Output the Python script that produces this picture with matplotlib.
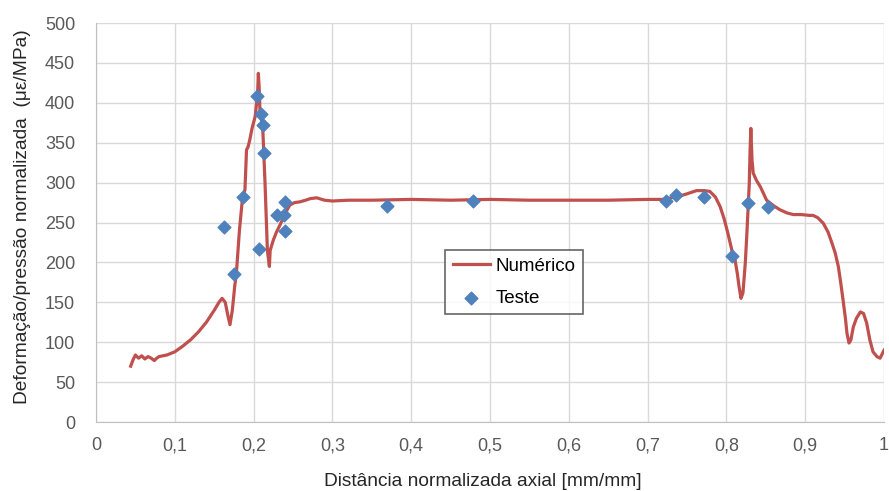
import matplotlib.pyplot as plt
from matplotlib.ticker import FuncFormatter, MultipleLocator

# Numérico (curva do modelo)
x_num = [0.044, 0.047, 0.050, 0.054, 0.058, 0.062, 0.066, 0.070, 0.074, 0.077, 0.080,
         0.090, 0.100, 0.110, 0.120, 0.130, 0.140, 0.150, 0.156, 0.160, 0.164, 0.167,
         0.170, 0.173, 0.176, 0.178, 0.182, 0.186, 0.189, 0.191, 0.193, 0.195, 0.198,
         0.202, 0.205, 0.206, 0.207, 0.208, 0.2115, 0.2124, 0.2145, 0.2175, 0.220,
         0.221, 0.225, 0.229, 0.234, 0.238, 0.242, 0.246, 0.252, 0.259, 0.266, 0.272,
         0.280, 0.290, 0.300, 0.320, 0.350, 0.400, 0.450, 0.500, 0.550, 0.600, 0.650,
         0.700, 0.720, 0.740, 0.750, 0.762, 0.772, 0.779, 0.786, 0.792, 0.797, 0.802,
         0.807, 0.811, 0.814, 0.816, 0.8185, 0.821, 0.824, 0.826, 0.829, 0.830, 0.831,
         0.8325, 0.834, 0.838, 0.843, 0.851, 0.860, 0.868, 0.877, 0.885, 0.895, 0.905,
         0.910, 0.916, 0.923, 0.929, 0.934, 0.938, 0.942, 0.945, 0.948, 0.951, 0.953,
         0.9556, 0.958, 0.961, 0.965, 0.970, 0.974, 0.978, 0.982, 0.986, 0.991, 0.995,
         0.998, 1.000]
y_num = [70, 78, 84, 80, 83, 79, 82, 80, 77, 80, 82,
         84, 88, 95, 103, 113, 125, 140, 150, 155, 150, 135,
         122, 140, 170, 185, 240, 282, 291, 341, 345, 353, 368,
         383, 410, 437, 420, 391, 370, 349, 299, 215, 195,
         215, 228, 238, 248, 257, 265, 272, 275, 276, 278, 280,
         281, 278, 277, 278, 278, 279, 278, 279, 278, 278, 278,
         279, 279, 283, 286, 290, 290, 289, 282, 270, 255, 236,
         215, 203, 185, 170, 155, 162, 200, 237, 299, 340, 368,
         328, 312, 303, 295, 278, 271, 266, 262, 260, 260, 259,
         259, 256, 249, 238, 224, 212, 195, 175, 153, 130, 111,
         99, 103, 119, 130, 138, 136, 124, 103, 88, 82, 80,
         86, 90]

# Teste (pontos experimentais)
x_teste = [0.163, 0.175, 0.186, 0.204, 0.210, 0.2115, 0.2136, 0.207, 0.230, 0.239,
           0.240, 0.240, 0.369, 0.478, 0.723, 0.736, 0.771, 0.807, 0.828, 0.853]
y_teste = [245, 185, 282, 408, 386, 372, 337, 217, 259, 259,
           276, 240, 271, 277, 277, 284, 282, 208, 274, 269]

plt.rcParams['font.family'] = ['Liberation Sans', 'DejaVu Sans']

fig = plt.figure(figsize=(8.89, 4.91), dpi=100)
ax = fig.add_axes([0.108, 0.1405, 0.8864, 0.8125])

ax.plot(x_num, y_num, color='#c0504d', linewidth=2.3, label='Numérico', zorder=3)
ax.scatter(x_teste, y_teste, marker='D', s=42, color='#4f81bd', label='Teste', zorder=4)

ax.set_xlim(0, 1)
ax.set_ylim(0, 500)
ax.xaxis.set_major_locator(MultipleLocator(0.1))
ax.yaxis.set_major_locator(MultipleLocator(50))
ax.xaxis.set_major_formatter(FuncFormatter(lambda v, p: ('%g' % round(v, 1)).replace('.', ',')))

ax.grid(True, color='#d9d9d9', linewidth=1)
ax.set_axisbelow(True)
for side in ['top', 'right']:
    ax.spines[side].set_visible(False)
for side in ['left', 'bottom']:
    ax.spines[side].set_color('#bfbfbf')
ax.tick_params(length=0, labelsize=13, labelcolor='#595959')
ax.tick_params(axis='x', pad=11)
ax.tick_params(axis='y', pad=15)

ax.set_xlabel('Distância normalizada axial [mm/mm]', fontsize=13.8, color='#262626')
ax.set_ylabel('Deformação/pressão normalizada  (με/MPa)', fontsize=13.8, color='#262626')
ax.xaxis.set_label_coords(0.4905, -0.128)
ax.yaxis.set_label_coords(-0.083, 0.515)

leg = ax.legend(loc='upper left', bbox_to_anchor=(0.443, 0.431), fontsize=13.5,
                frameon=True, fancybox=False, handlelength=2.0, handletextpad=0.3,
                borderpad=0.4, borderaxespad=0, labelspacing=0.8)
leg.get_frame().set_edgecolor('#404040')
leg.get_frame().set_linewidth(1.2)

fig.savefig('out.png', dpi=100)
